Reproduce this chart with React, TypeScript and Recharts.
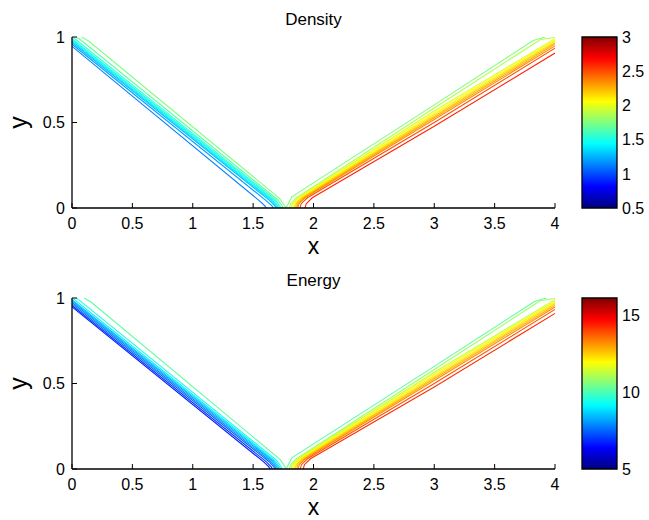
// @ts-nocheck
import React from 'react'
import { LineChart, Line, XAxis, YAxis, ComposedChart, ReferenceArea, Label } from 'recharts'

const FONT = '"Liberation Sans", Arial, Helvetica, sans-serif'

// axes
const xTicks = [0, 0.5, 1, 1.5, 2, 2.5, 3, 3.5, 4]
const yTicks = [0, 0.5, 1]

// colour bars
const densityRange = [0.5, 3]
const densityTicks = [0.5, 1, 1.5, 2, 2.5, 3]
const energyRange = [5, 16.1]
const energyTicks = [5, 10, 15]

// contour levels (one per path below)
const densityLevels = [1.125, 1.2, 1.275, 1.35, 1.425, 1.5, 1.575, 1.65, 1.75, 1.875, 1.975, 2.05, 2.125, 2.2, 2.275, 2.35, 2.5, 2.6]
const energyLevels = [6.67, 7.0, 7.44, 7.89, 8.22, 8.55, 9.0, 9.44, 10.2, 10.9, 11.3, 11.8, 12.1, 12.4, 12.8, 13.2, 13.8, 14.2]

// contour lines, [x, y]
const densityPaths = [
  [[0, 0.945], [1.555, 0.04], [1.597, 0.012], [1.607, 0]],
  [[0, 0.958], [1.61, 0.042], [1.656, 0.012], [1.667, 0]],
  [[0, 0.968], [1.635, 0.045], [1.68, 0.012], [1.69, 0]],
  [[0, 0.976], [1.648, 0.046], [1.69, 0.012], [1.7, 0]],
  [[0, 0.983], [1.66, 0.047], [1.7, 0.012], [1.71, 0]],
  [[0, 0.99], [1.672, 0.048], [1.71, 0.012], [1.72, 0]],
  [[0.01, 0.997], [1.684, 0.049], [1.722, 0.012], [1.731, 0]],
  [[0.03, 1], [0.06, 0.99], [1.7, 0.05], [1.74, 0.013], [1.748, 0]],
  [[0.08, 1], [0.14, 0.975], [1.72, 0.055], [1.76, 0.015], [1.772, 0.002], [1.784, 0.015], [1.82, 0.065], [3, 0.603], [3.82, 0.98], [3.92, 1]],
  [[1.8, 0], [1.81, 0.025], [1.86, 0.06], [3, 0.585], [3.88, 0.985], [4, 0.997]],
  [[1.815, 0], [1.825, 0.025], [1.875, 0.06], [3, 0.567], [4, 0.99]],
  [[1.828, 0], [1.838, 0.025], [1.888, 0.06], [3, 0.556], [4, 0.982]],
  [[1.84, 0], [1.85, 0.025], [1.9, 0.06], [3, 0.546], [4, 0.974]],
  [[1.85, 0], [1.86, 0.025], [1.91, 0.06], [3, 0.537], [4, 0.966]],
  [[1.86, 0], [1.87, 0.025], [1.92, 0.06], [3, 0.528], [4, 0.958]],
  [[1.87, 0], [1.88, 0.025], [1.93, 0.06], [3, 0.518], [4, 0.948]],
  [[1.888, 0], [1.898, 0.025], [1.95, 0.06], [3, 0.5], [4, 0.935]],
  [[1.93, 0], [1.94, 0.025], [1.99, 0.06], [3, 0.478], [4, 0.906]],
]

const energyPaths = [
  [[0, 0.948], [1.59, 0.04], [1.63, 0.012], [1.64, 0]],
  [[0, 0.956], [1.61, 0.042], [1.65, 0.012], [1.66, 0]],
  [[0, 0.966], [1.63, 0.044], [1.672, 0.012], [1.68, 0]],
  [[0, 0.975], [1.645, 0.045], [1.684, 0.012], [1.692, 0]],
  [[0, 0.983], [1.658, 0.046], [1.696, 0.012], [1.704, 0]],
  [[0, 0.99], [1.67, 0.047], [1.708, 0.012], [1.716, 0]],
  [[0.01, 0.996], [1.682, 0.048], [1.72, 0.012], [1.728, 0]],
  [[0.03, 1], [0.05, 0.993], [1.695, 0.05], [1.733, 0.013], [1.741, 0]],
  [[0.1, 1], [0.16, 0.975], [1.725, 0.055], [1.762, 0.015], [1.773, 0.002], [1.784, 0.015], [1.82, 0.065], [3, 0.6], [3.83, 0.98], [3.93, 1]],
  [[1.8, 0], [1.81, 0.025], [1.86, 0.06], [3, 0.582], [3.88, 0.985], [4, 0.997]],
  [[1.812, 0], [1.822, 0.025], [1.872, 0.06], [3, 0.566], [4, 0.99]],
  [[1.824, 0], [1.834, 0.025], [1.884, 0.06], [3, 0.556], [4, 0.982]],
  [[1.836, 0], [1.846, 0.025], [1.896, 0.06], [3, 0.546], [4, 0.974]],
  [[1.848, 0], [1.858, 0.025], [1.908, 0.06], [3, 0.537], [4, 0.966]],
  [[1.86, 0], [1.87, 0.025], [1.92, 0.06], [3, 0.528], [4, 0.957]],
  [[1.872, 0], [1.882, 0.025], [1.932, 0.06], [3, 0.518], [4, 0.947]],
  [[1.89, 0], [1.9, 0.025], [1.95, 0.06], [3, 0.5], [4, 0.933]],
  [[1.915, 0], [1.925, 0.025], [1.975, 0.06], [3, 0.48], [4, 0.91]],
]

// matlab jet colormap
function jet(t) {
  t = Math.max(0, Math.min(1, t))
  const c = (v) => Math.round(Math.max(0, Math.min(1, v)) * 255)
  const r = Math.min(4 * t - 1.5, -4 * t + 4.5)
  const g = Math.min(4 * t - 0.5, -4 * t + 3.5)
  const b = Math.min(4 * t + 0.5, -4 * t + 2.5)
  return `rgb(${c(r)},${c(g)},${c(b)})`
}
const jetStops = [0, 0.125, 0.375, 0.625, 0.875, 1]

const TICK = 5
const TICK_FONT = 16
const AXIS = { stroke: '#000', strokeWidth: 1.3 }

const BottomTick = ({ x, y, payload }) => (
  <g>
    <line x1={x} y1={y} x2={x} y2={y - TICK} stroke="#000" />
    <text x={x} y={y + 15} dy="0.36em" textAnchor="middle" fontSize={TICK_FONT} fontFamily={FONT} fill="#000">{payload.value}</text>
  </g>
)
const TopTick = ({ x, y }) => <line x1={x} y1={y} x2={x} y2={y + TICK} stroke="#000" />
const LeftTick = ({ x, y, payload }) => (
  <g>
    <line x1={x} y1={y} x2={x + TICK} y2={y} stroke="#000" />
    <text x={x - 7} y={y} dy="0.36em" textAnchor="end" fontSize={TICK_FONT} fontFamily={FONT} fill="#000">{payload.value}</text>
  </g>
)
const RightTick = ({ x, y }) => <line x1={x} y1={y} x2={x - TICK} y2={y} stroke="#000" />
const BarTick = ({ x, y, payload }) => (
  <text x={x + 5} y={y} dy="0.36em" textAnchor="start" fontSize={TICK_FONT} fontFamily={FONT} fill="#000">{payload.value}</text>
)

function Panel({ title, levels, paths, range, ticks, top, gid }) {
  const [lo, hi] = range
  return (
    <div style={{ position: 'absolute', left: 0, top, width: 649, height: 259 }}>
      <div style={{ position: 'absolute', left: 0, top: 0 }}>
        <LineChart width={649} height={259} margin={{ top: 37, right: 94, bottom: 0, left: 0 }}>
          <text x={313.5} y={25} textAnchor="middle" fontSize={17} fontFamily={FONT} fill="#000">{title}</text>
          <XAxis type="number" dataKey="x" domain={[0, 4]} ticks={xTicks} interval={0} allowDataOverflow
            height={51} tickSize={0} tickMargin={0} tickLine={false} axisLine={AXIS} tick={<BottomTick />}>
            <Label content={({ viewBox }) => (
              <text x={viewBox.x + viewBox.width / 2} y={viewBox.y + 46} textAnchor="middle" fontSize={23} fontFamily={FONT} fill="#000">x</text>
            )} />
          </XAxis>
          <XAxis xAxisId="top" orientation="top" type="number" dataKey="x" domain={[0, 4]} ticks={xTicks} interval={0} allowDataOverflow
            height={0} tickSize={0} tickMargin={0} tickLine={false} axisLine={AXIS} tick={<TopTick />} />
          <YAxis type="number" domain={[0, 1]} ticks={yTicks} interval={0} allowDataOverflow
            width={72} tickSize={0} tickMargin={0} tickLine={false} axisLine={AXIS} tick={<LeftTick />}>
            <Label content={({ viewBox }) => {
              const cx = viewBox.x + 27
              const cy = viewBox.y + viewBox.height / 2
              return (
                <text x={cx} y={cy} transform={`rotate(-90 ${cx} ${cy})`} textAnchor="middle" fontSize={25} fontFamily={FONT} fill="#000">y</text>
              )
            }} />
          </YAxis>
          <YAxis yAxisId="right" orientation="right" type="number" domain={[0, 1]} ticks={yTicks} interval={0} allowDataOverflow
            width={0} tickSize={0} tickMargin={0} tickLine={false} axisLine={AXIS} tick={<RightTick />} />
          {paths.map((p, i) => (
            <Line
              key={i}
              data={p.map(([x, y]) => ({ x, y }))}
              dataKey="y"
              type="linear"
              stroke={jet((levels[i] - lo) / (hi - lo))}
              strokeWidth={1.1}
              dot={false}
              activeDot={false}
              isAnimationActive={false}
            />
          ))}
        </LineChart>
      </div>
      <div style={{ position: 'absolute', left: 575, top: 0 }}>
        <ComposedChart width={74} height={259} margin={{ top: 37, right: 0, bottom: 51, left: 7 }}>
          <defs>
            <linearGradient id={gid} x1="0" y1="1" x2="0" y2="0">
              {jetStops.map((s) => (
                <stop key={s} offset={s} stopColor={jet(s)} />
              ))}
            </linearGradient>
          </defs>
          <XAxis type="number" dataKey="x" domain={[0, 1]} hide allowDataOverflow />
          <YAxis orientation="right" type="number" domain={range} ticks={ticks} interval={0} allowDataOverflow
            width={32} tickSize={0} tickMargin={0} tickLine={false} axisLine={false} tick={<BarTick />} />
          <ReferenceArea x1={0} x2={1} y1={lo} y2={hi} fill={`url(#${gid})`} fillOpacity={1} stroke="#000" strokeWidth={1.3} ifOverflow="visible" />
        </ComposedChart>
      </div>
    </div>
  )
}

export default function App() {
  return (
    <div style={{ position: 'absolute', left: 0, top: 0, width: 649, height: 520, background: '#fff' }}>
      <Panel title="Density" levels={densityLevels} paths={densityPaths} range={densityRange} ticks={densityTicks} top={0} gid="jetDensity" />
      <Panel title="Energy" levels={energyLevels} paths={energyPaths} range={energyRange} ticks={energyTicks} top={261} gid="jetEnergy" />
    </div>
  )
}
